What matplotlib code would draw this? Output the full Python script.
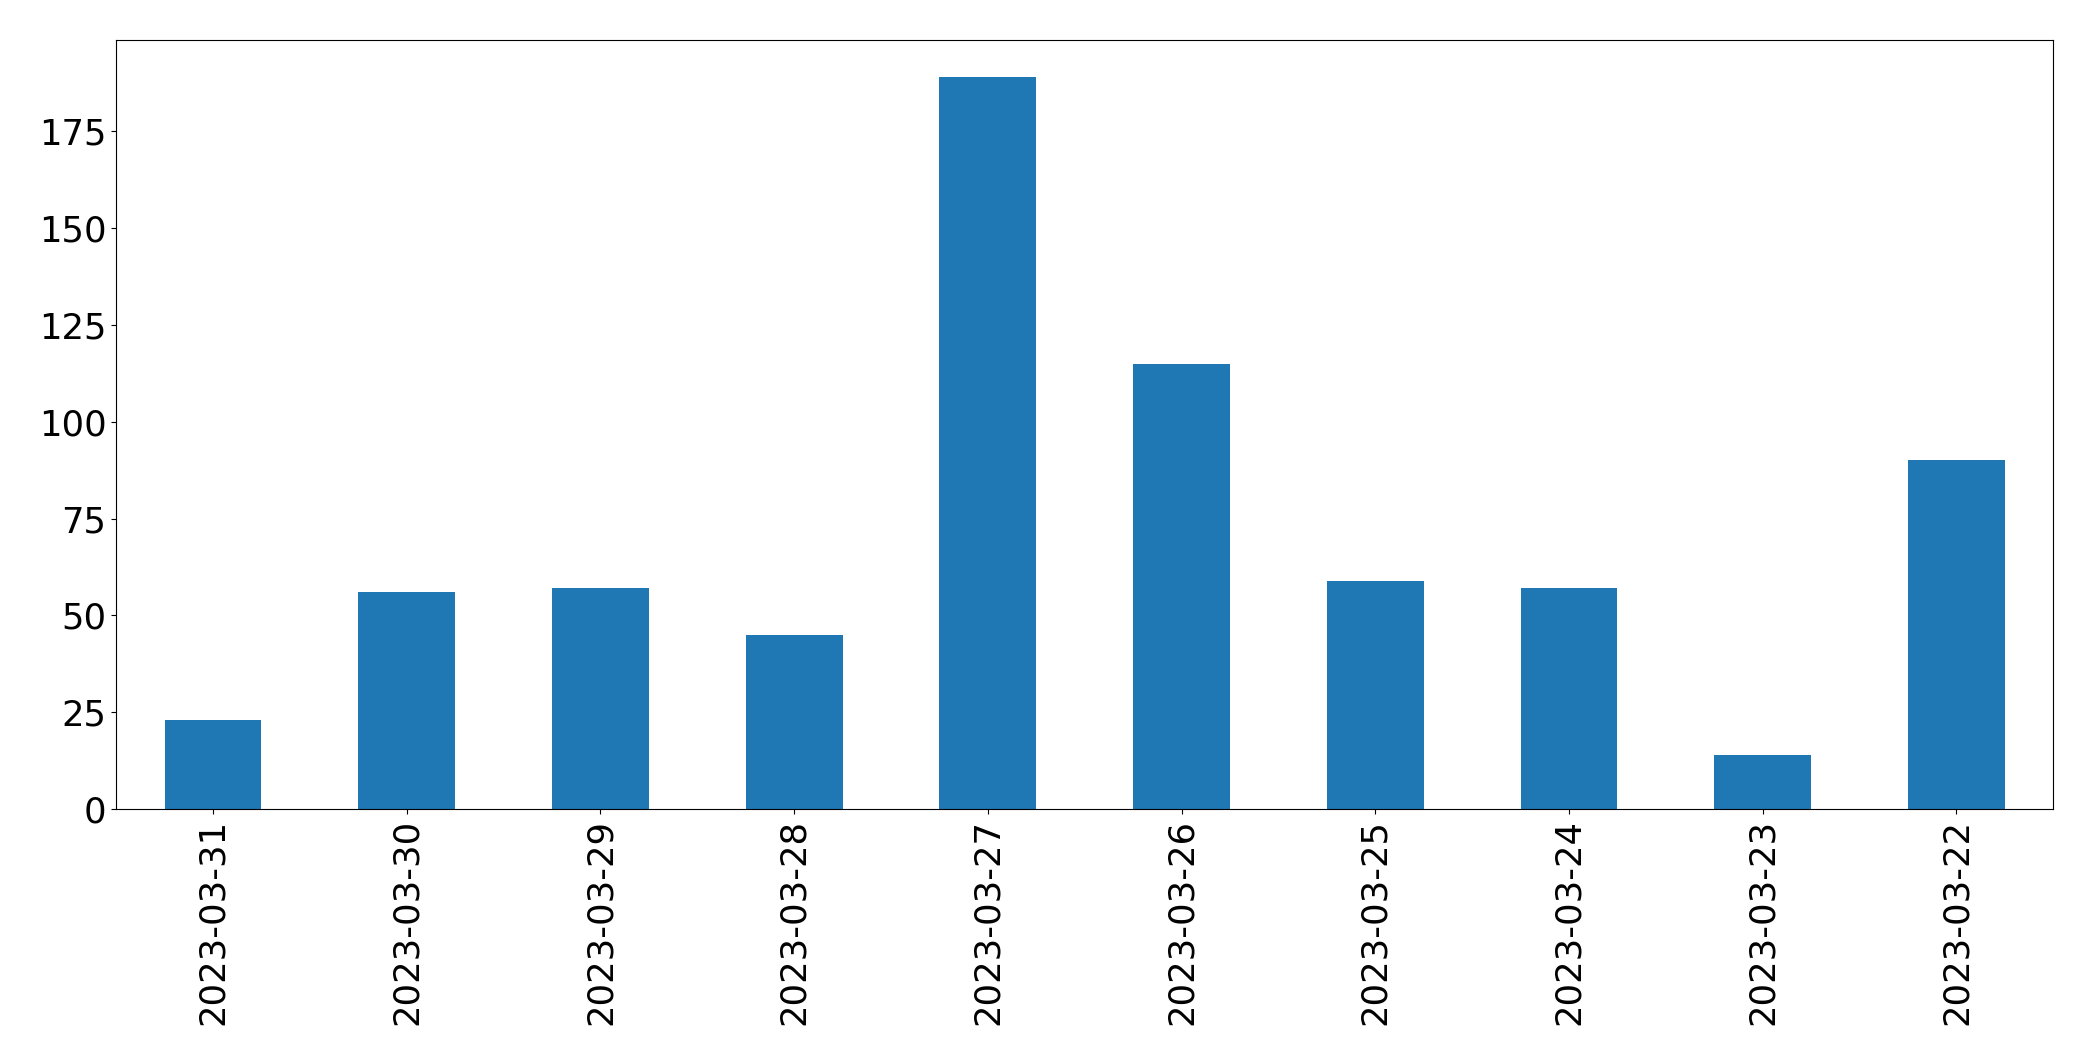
import matplotlib

matplotlib.use("Agg")
import matplotlib.pyplot as plt
import numpy as np

dates = ["2023-03-31", "2023-03-30", "2023-03-29", "2023-03-28", "2023-03-27",
         "2023-03-26", "2023-03-25", "2023-03-24", "2023-03-23", "2023-03-22"]
counts = [23, 56, 57, 45, 189, 115, 59, 57, 14, 90]

fig = plt.figure(figsize=(20.93, 10.61), dpi=100)
ax = fig.add_axes([0.0555, 0.2375, 0.9255, 0.7245])

x = np.arange(len(dates))
ax.bar(x, counts, width=0.5, color="#1f77b4")
ax.set_xlim(-0.5, len(dates) - 0.5)
ax.set_ylim(0, 198.5)
ax.set_yticks(np.arange(0, 200, 25))
ax.set_xticks(x)
ax.set_xticklabels(dates, rotation=90)
ax.tick_params(labelsize=25.5)

plt.savefig("out.png", dpi=100)
plt.close()
